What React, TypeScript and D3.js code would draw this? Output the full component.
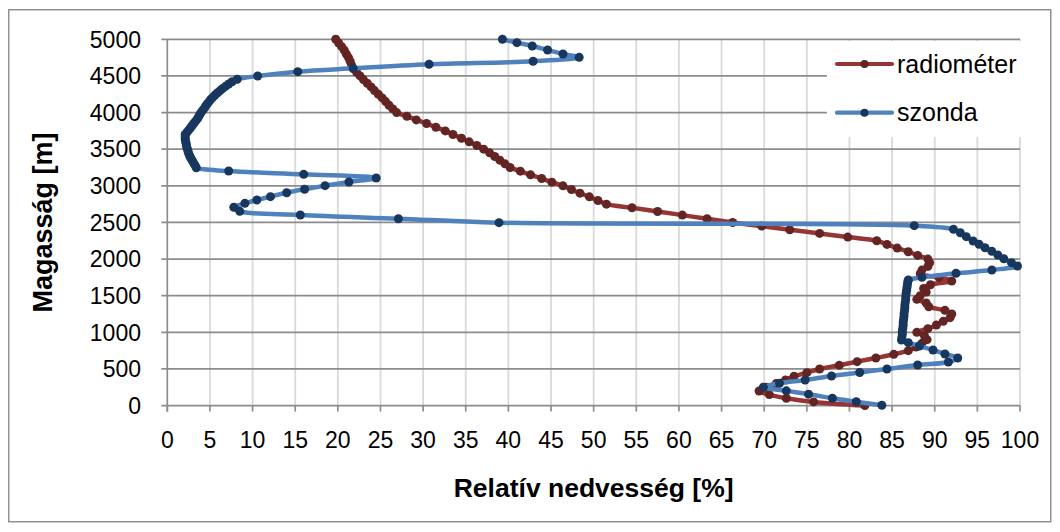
import React from "react";
import * as d3 from "d3";

// ---- data ----
const radioHeights = [
  0, 50, 100, 150, 200, 250, 300, 350, 400, 450, 500, 550, 600, 650, 700, 750, 800, 850, 900, 950,
  1000, 1050, 1100, 1150, 1200, 1250, 1300, 1350, 1400, 1450, 1500, 1550, 1600, 1650, 1700, 1750, 1800, 1850, 1900, 1950,
  2000, 2050, 2100, 2150, 2200, 2250, 2300, 2350, 2400, 2450, 2500, 2550, 2600, 2650, 2700, 2750, 2800, 2850, 2900, 2950,
  3000, 3050, 3100, 3150, 3200, 3250, 3300, 3350, 3400, 3450, 3500, 3550, 3600, 3650, 3700, 3750, 3800, 3850, 3900, 3950,
  4000, 4050, 4100, 4150, 4200, 4250, 4300, 4350, 4400, 4450, 4500, 4550, 4600, 4650, 4700, 4750, 4800, 4850, 4900, 4950, 5000,
];
const radioRH = [
  81.8, 75.8, 72.6, 70.6, 69.4, 70.3, 71.4, 72.5, 73.5, 75.0, 76.5, 78.8, 80.9, 83.1, 85.2, 86.9, 87.8, 88.5, 89.1, 88.8,
  87.9, 89.2, 90.2, 91.0, 91.8, 92.0, 91.2, 89.3, 89.0, 87.9, 88.3, 89.0, 88.7, 89.5, 92.0, 90.5, 88.3, 88.5, 89.2, 89.4,
  89.2, 88.0, 86.9, 85.6, 84.4, 83.2, 79.8, 76.5, 73.0, 69.7, 66.3, 63.3, 60.4, 57.5, 54.5, 51.5, 50.5, 49.5, 48.4, 47.4,
  46.4, 45.1, 43.9, 42.6, 41.4, 40.2, 39.6, 39.0, 38.4, 37.8, 37.1, 36.3, 35.4, 34.5, 33.5, 32.6, 31.5, 30.4, 29.2, 28.1,
  26.9, 26.45, 26.0, 25.6, 25.2, 24.75, 24.3, 23.9, 23.45, 23.0, 22.6, 22.2, 21.8, 21.6, 21.45, 21.25, 21.0, 20.75, 20.45, 20.1, 19.75,
];

const sondeHeights = [
  5, 53, 100, 156, 201, 250, 304, 349, 404, 452, 500, 554, 595, 650, 704, 759, 813, 859,
  895, 935, 975, 1015, 1055, 1095, 1135, 1175, 1215, 1255, 1295, 1335, 1375, 1415, 1455, 1495, 1535, 1575, 1615, 1655, 1695, 1714,
  1751, 1806, 1851, 1906, 1951, 2005, 2056, 2106, 2155, 2202, 2247, 2306, 2360, 2406, 2456,
  2497, 2551, 2602, 2652, 2707, 2761, 2806, 2852, 2906, 2953, 3002, 3052, 3107, 3157, 3202, 3247,
  3280, 3310, 3340, 3370, 3400, 3430, 3460, 3490, 3520, 3550, 3580, 3610, 3640, 3670, 3700, 3730, 3760, 3790, 3820, 3850,
  3880, 3910, 3940, 3970, 4000, 4030, 4060, 4090, 4120, 4150, 4180, 4210, 4240, 4270, 4300, 4330, 4360, 4390, 4420, 4454,
  4499, 4558, 4604, 4659, 4700, 4754, 4799, 4854, 4909, 4954, 5000,
];
const sondeRH = [
  83.8, 80.8, 78.0, 75.2, 72.6, 69.9, 71.8, 74.8, 77.9, 81.2, 84.4, 88.0, 91.6, 92.7, 91.2, 89.8, 88.2, 86.9,
  86.1, 86.15, 86.2, 86.2, 86.25, 86.3, 86.3, 86.35, 86.4, 86.4, 86.45, 86.5, 86.5, 86.55, 86.6, 86.6, 86.65, 86.7, 86.75, 86.8, 86.85, 86.9,
  88.5, 92.5, 96.7, 99.7, 99.0, 98.1, 97.4, 96.7, 95.9, 95.2, 94.5, 93.7, 93.0, 92.2, 87.6,
  38.9, 27.1, 15.6, 8.5, 7.8, 9.1, 10.5, 12.1, 14.0, 16.1, 18.5, 21.3, 24.5, 16.0, 7.2, 3.4,
  3.25, 3.1, 2.95, 2.8, 2.65, 2.55, 2.45, 2.4, 2.3, 2.25, 2.2, 2.15, 2.1, 2.1, 2.1, 2.3, 2.5, 2.7, 2.9, 3.1,
  3.3, 3.5, 3.65, 3.8, 3.95, 4.15, 4.35, 4.5, 4.7, 4.9, 5.1, 5.35, 5.6, 5.9, 6.2, 6.5, 6.85, 7.2, 7.6, 8.2,
  10.6, 15.3, 21.8, 30.7, 42.9, 48.3, 46.4, 44.6, 42.8, 41.0, 39.3,
];

const xTicks = [0, 5, 10, 15, 20, 25, 30, 35, 40, 45, 50, 55, 60, 65, 70, 75, 80, 85, 90, 95, 100];
const yTicks = [0, 500, 1000, 1500, 2000, 2500, 3000, 3500, 4000, 4500, 5000];

const seriesNames = ["radiométer", "szonda"];
const xTitle = "Relatív nedvesség [%]";
const yTitle = "Magasság [m]";

// ---- styles ----
const W = 1044;
const H = 516;
const FONT = "'Liberation Sans', Arial, sans-serif";
const RED_LINE = "#963634";
const RED_MARK = "#632523";
const BLUE_LINE = "#4F81BD";
const BLUE_MARK = "#17375E";

export default function App() {
  const x = d3.scaleLinear().domain([0, 100]).range([159.3, 1012]);
  const y = d3.scaleLinear().domain([0, 5000]).range([397.6, 31.3]);

  const radio = radioHeights.map((h, i) => [radioRH[i], h] as [number, number]);
  const sonde = sondeHeights.map((h, i) => [sondeRH[i], h] as [number, number]);

  const line = d3
    .line<[number, number]>()
    .x((d) => x(d[0]))
    .y((d) => y(d[1]))
    .curve(d3.curveCatmullRom.alpha(0.5));

  const legendX0 = 829;
  const legendX1 = 884;
  const legendRows = [56, 104.7];

  return (
    <svg width={W} height={H} style={{ display: "block" }} fontFamily={FONT}>
      <rect x={0} y={0} width={W} height={H} fill="#ffffff" />
      <rect x={0.75} y={1.75} width={1042} height={512} fill="none" stroke="#8a8a8a" strokeWidth={1.4} />

      {/* vertical gridlines */}
      {xTicks.slice(1).map((t) => (
        <line key={"vg" + t} x1={x(t)} x2={x(t)} y1={y(5000)} y2={y(0)} stroke="#d9d9d9" strokeWidth={1.8} />
      ))}
      {/* horizontal gridlines */}
      {yTicks.map((t) => (
        <line key={"hg" + t} x1={x(0) - 6} x2={x(100)} y1={y(t)} y2={y(t)} stroke="#8c8c8c" strokeWidth={1.7} />
      ))}
      {/* axes */}
      <line x1={x(0)} x2={x(0)} y1={y(5000)} y2={y(0) + 6} stroke="#8c8c8c" strokeWidth={1.7} />
      {xTicks.map((t) => (
        <line key={"xt" + t} x1={x(t)} x2={x(t)} y1={y(0)} y2={y(0) + 6} stroke="#8c8c8c" strokeWidth={1.7} />
      ))}

      {/* tick labels */}
      {yTicks.map((t) => (
        <text key={"yl" + t} x={133} y={y(t) + 8.3} textAnchor="end" fontSize={23} fill="#000">
          {t}
        </text>
      ))}
      {xTicks.map((t) => (
        <text key={"xl" + t} x={x(t)} y={440} textAnchor="middle" fontSize={23} fill="#000">
          {t}
        </text>
      ))}

      {/* axis titles */}
      <text x={(x(0) + x(100)) / 2} y={489} textAnchor="middle" fontSize={26.5} fontWeight="bold" fill="#000">
        {xTitle}
      </text>
      <text
        transform={`translate(44, ${(y(0) + y(5000)) / 2}) rotate(-90)`}
        textAnchor="middle"
        fontSize={27}
        fontWeight="bold"
        fill="#000"
      >
        {yTitle}
      </text>

      {/* series: radiometer */}
      <path d={line(radio) || ""} fill="none" stroke={RED_LINE} strokeWidth={4.5} strokeLinejoin="round" strokeLinecap="round" />
      {radio.map((d, i) => (
        <circle key={"r" + i} cx={x(d[0])} cy={y(d[1])} r={4.5} fill={RED_MARK} />
      ))}
      {/* series: sonde */}
      <path d={line(sonde) || ""} fill="none" stroke={BLUE_LINE} strokeWidth={4.5} strokeLinejoin="round" strokeLinecap="round" />
      {sonde.map((d, i) => (
        <circle key={"s" + i} cx={x(d[0])} cy={y(d[1])} r={4.5} fill={BLUE_MARK} />
      ))}

      {/* legend */}
      <rect x={819} y={33} width={196} height={96} fill="#ffffff" />
      {seriesNames.map((name, i) => (
        <g key={name}>
          <line
            x1={legendX0}
            x2={legendX1}
            y1={legendRows[i]}
            y2={legendRows[i]}
            stroke={i === 0 ? RED_LINE : BLUE_LINE}
            strokeWidth={4.2}
            strokeLinecap="round"
          />
          <circle cx={(legendX0 + legendX1) / 2} cy={legendRows[i]} r={4} fill={i === 0 ? RED_MARK : BLUE_MARK} />
          <text x={889} y={legendRows[i] + 8.5} fontSize={25} fill="#000">
            {name}
          </text>
        </g>
      ))}
    </svg>
  );
}
